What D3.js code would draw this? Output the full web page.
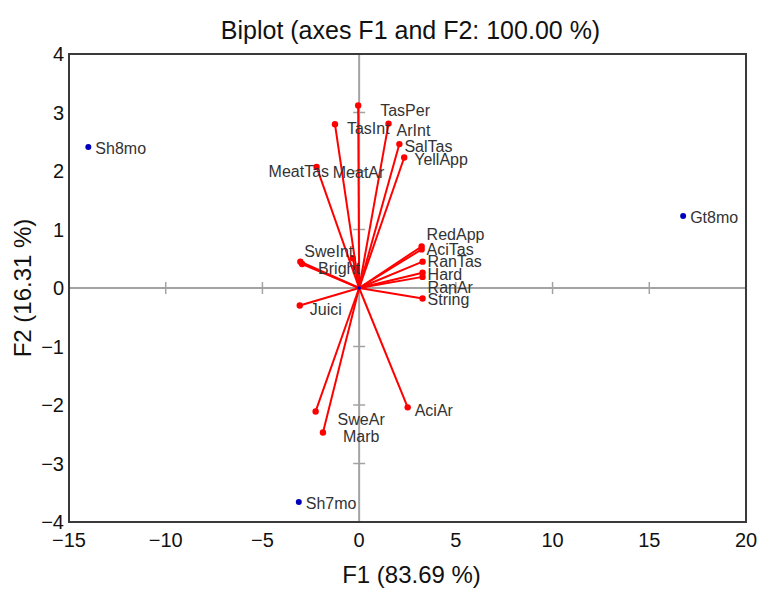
<!DOCTYPE html>
<html>
<head>
<meta charset="utf-8">
<script src="https://cdn.jsdelivr.net/npm/d3@7"></script>
<style>
  html, body { margin: 0; padding: 0; background: #fff; }
  svg { display: block; font-family: "Liberation Sans", Arial, Helvetica, sans-serif; }
</style>
</head>
<body>
<svg id="chart" width="758" height="589"></svg>
<script>
// ---------- data ----------
const title = "Biplot (axes F1 and F2: 100.00 %)";
const xTitle = "F1 (83.69 %)";
const yTitle = "F2 (16.31 %)";
const xTicks = [-15, -10, -5, 0, 5, 10, 15, 20];
const yTicks = [-4, -3, -2, -1, 0, 1, 2, 3, 4];

// variables (red vectors)
const varNames = ["TasPer", "TasInt", "ArInt", "SalTas", "YellApp", "MeatTas", "MeatAr",
                  "SweInt", "Bright", "RedApp", "AciTas", "RanTas", "Hard", "RanAr",
                  "String", "Juici", "SweAr", "Marb", "AciAr"];
const varF1 = [-0.05, -1.25, 1.52, 2.08, 2.33, -2.20, -0.33,
               -3.04, -2.95, 3.23, 3.23, 3.28, 3.28, 3.28,
               3.28, -3.07, -2.25, -1.87, 2.51];
const varF2 = [3.12, 2.80, 2.81, 2.46, 2.23, 2.07, 0.51,
               0.45, 0.41, 0.71, 0.66, 0.45, 0.26, 0.19,
               -0.18, -0.30, -2.11, -2.47, -2.04];

// observations (blue points)
const obsNames = ["Sh8mo", "Gt8mo", "Sh7mo"];
const obsF1 = [-14.0, 16.75, -3.12];
const obsF2 = [2.41, 1.23, -3.66];

// label placement (layout only, pixels relative to point)
const varLabelDx = [22, 12, 8, 5, 10, -48, -20, 4, 16, 5, 5, 5, 5, 5, 5, 10, 22, 20, 7];
const varLabelDy = [5, 4, 7, 2, 2, 5, -86, -10, 4, -12, 0, 0, 2, 11, 1, 4, 8, 4, 3];

// ---------- layout ----------
const svg = d3.select("#chart");
const W = 758, H = 589;
const pLeft = 69, pRight = 746, pTop = 54, pBottom = 522;

const x = d3.scaleLinear().domain([-15, 20]).range([pLeft, pRight]);
const y = d3.scaleLinear().domain([-4, 4]).range([pBottom, pTop]);

svg.append("rect").attr("width", W).attr("height", H).attr("fill", "#fff");

// zero lines
const axisColor = "#a3a3a3";
svg.append("line")
  .attr("x1", pLeft).attr("x2", pRight).attr("y1", y(0)).attr("y2", y(0))
  .attr("stroke", axisColor).attr("stroke-width", 2);
svg.append("line")
  .attr("x1", x(0)).attr("x2", x(0)).attr("y1", pTop).attr("y2", pBottom)
  .attr("stroke", axisColor).attr("stroke-width", 2);

// cross ticks on zero lines
svg.selectAll("line.xt").data(xTicks.filter(d => d !== 0 && d > -15 && d < 20)).enter()
  .append("line").attr("class", "xt")
  .attr("x1", d => x(d)).attr("x2", d => x(d))
  .attr("y1", y(0) - 6).attr("y2", y(0) + 6)
  .attr("stroke", axisColor).attr("stroke-width", 1.5);
svg.selectAll("line.yt").data(yTicks.filter(d => d !== 0 && d > -4 && d < 4)).enter()
  .append("line").attr("class", "yt")
  .attr("x1", x(0) - 6).attr("x2", x(0) + 6)
  .attr("y1", d => y(d)).attr("y2", d => y(d))
  .attr("stroke", axisColor).attr("stroke-width", 1.5);

// frame
svg.append("rect")
  .attr("x", pLeft).attr("y", pTop)
  .attr("width", pRight - pLeft).attr("height", pBottom - pTop)
  .attr("fill", "none").attr("stroke", "#3a3a3a").attr("stroke-width", 2);

// tick labels
svg.selectAll("text.xl").data(xTicks).enter()
  .append("text").attr("class", "xl")
  .attr("x", d => x(d)).attr("y", pBottom + 18)
  .attr("text-anchor", "middle").attr("dominant-baseline", "central")
  .attr("font-size", 20).attr("fill", "#111")
  .text(d => d < 0 ? "\u2212" + Math.abs(d) : d);
svg.selectAll("text.yl").data(yTicks).enter()
  .append("text").attr("class", "yl")
  .attr("x", pLeft - 5).attr("y", d => y(d))
  .attr("text-anchor", "end").attr("dominant-baseline", "central")
  .attr("font-size", 20).attr("fill", "#111")
  .text(d => d < 0 ? "\u2212" + Math.abs(d) : d);

// titles
svg.append("text").attr("x", (pLeft + pRight) / 2 + 3).attr("y", 30)
  .attr("text-anchor", "middle").attr("dominant-baseline", "central")
  .attr("font-size", 25).attr("fill", "#111").text(title);
svg.append("text").attr("x", (pLeft + pRight) / 2 + 4).attr("y", 574)
  .attr("text-anchor", "middle").attr("dominant-baseline", "central")
  .attr("font-size", 24).attr("fill", "#111").text(xTitle);
svg.append("text")
  .attr("transform", `translate(22, ${y(0)}) rotate(-90)`)
  .attr("text-anchor", "middle").attr("dominant-baseline", "central")
  .attr("font-size", 24).attr("fill", "#111").text(yTitle);

// variable vectors
const vars = varNames.map((n, i) => ({ name: n, f1: varF1[i], f2: varF2[i], dx: varLabelDx[i], dy: varLabelDy[i] }));
svg.selectAll("line.vec").data(vars).enter()
  .append("line").attr("class", "vec")
  .attr("x1", x(0)).attr("y1", y(0))
  .attr("x2", d => x(d.f1)).attr("y2", d => y(d.f2))
  .attr("stroke", "#ff0000").attr("stroke-width", 2);
svg.selectAll("circle.vp").data(vars).enter()
  .append("circle").attr("class", "vp")
  .attr("cx", d => x(d.f1)).attr("cy", d => y(d.f2)).attr("r", 3.2)
  .attr("fill", "#ff0000");
svg.selectAll("text.vl").data(vars).enter()
  .append("text").attr("class", "vl")
  .attr("x", d => x(d.f1) + d.dx).attr("y", d => y(d.f2) + d.dy)
  .attr("dominant-baseline", "central")
  .attr("font-size", 16).attr("fill", "#333")
  .text(d => d.name);

// origin point
svg.append("circle").attr("cx", x(0)).attr("cy", y(0)).attr("r", 1.8).attr("fill", "#0000cc");

// observations
const obs = obsNames.map((n, i) => ({ name: n, f1: obsF1[i], f2: obsF2[i] }));
svg.selectAll("circle.ob").data(obs).enter()
  .append("circle").attr("class", "ob")
  .attr("cx", d => x(d.f1)).attr("cy", d => y(d.f2)).attr("r", 3)
  .attr("fill", "#0000bb");
svg.selectAll("text.ol").data(obs).enter()
  .append("text").attr("class", "ol")
  .attr("x", d => x(d.f1) + 7).attr("y", d => y(d.f2) + 1)
  .attr("dominant-baseline", "central")
  .attr("font-size", 16).attr("fill", "#333")
  .text(d => d.name);
</script>
</body>
</html>
